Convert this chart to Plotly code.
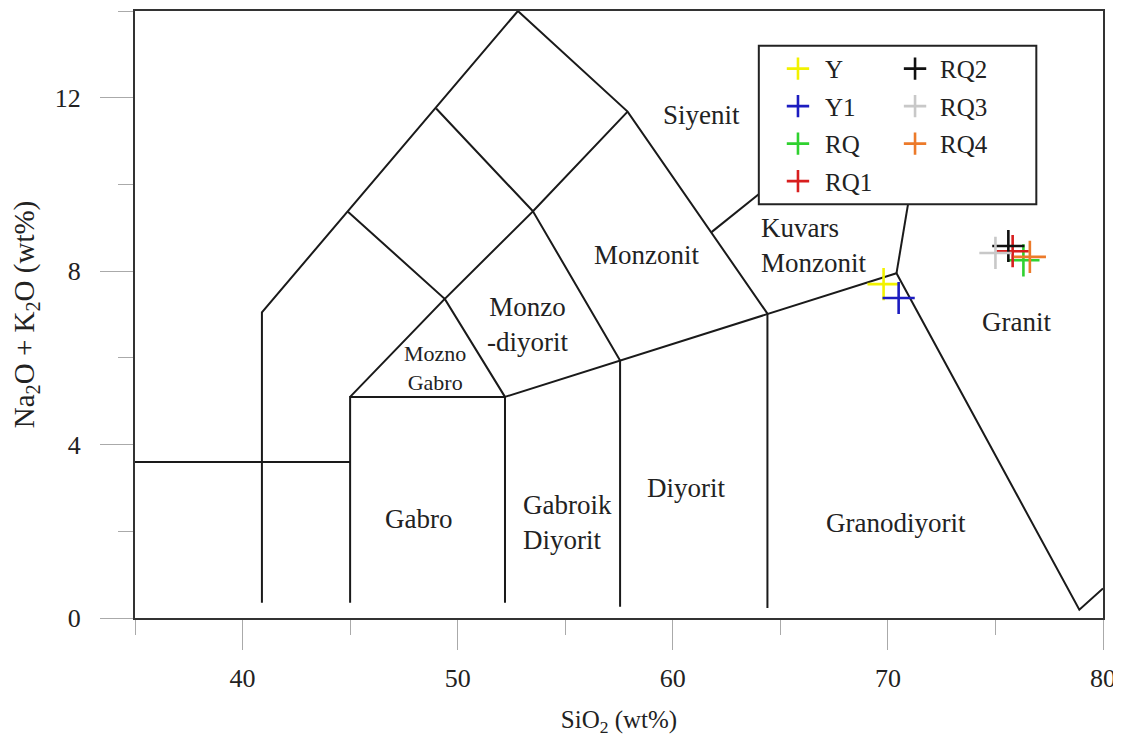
import plotly.graph_objects as go

# ---------------- data ----------------
series_names = ["Y", "Y1", "RQ", "RQ1", "RQ2", "RQ3", "RQ4"]
series_colors = ["#f2f200", "#1c1cc0", "#2fd12f", "#d81e1e", "#111111", "#c8c8c8", "#ec7a2a"]
sio2 = [69.8, 70.5, 76.3, 75.8, 75.6, 75.0, 76.6]
alkali = [7.70, 7.38, 8.25, 8.46, 8.58, 8.42, 8.33]

# TAS field boundaries (SiO2, Na2O+K2O) polylines
boundaries = [
    [(40.9, 0.35), (40.9, 7.05), (52.8, 14.0), (57.9, 11.68), (64.4, 7.02), (64.4, 0.23)],
    [(35.0, 3.6), (45.0, 3.6)],
    [(45.0, 0.35), (45.0, 5.1), (52.2, 5.1), (52.2, 0.35)],
    [(45.0, 5.1), (49.4, 7.36), (52.2, 5.1)],
    [(44.9, 9.37), (49.4, 7.36), (53.5, 9.38), (57.55, 5.94), (57.55, 0.26)],
    [(49.0, 11.75), (53.5, 9.38), (57.9, 11.68)],
    [(52.2, 5.1), (57.55, 5.94), (64.4, 7.02), (70.4, 7.95), (78.9, 0.19), (80.0, 0.68)],
    [(70.4, 7.95), (72.1, 13.0)],
    [(61.8, 8.9), (72.1, 13.0)],
]

field_labels = [
    ("Siyenit", 61.35, 11.6, "center", 27),
    ("Monzonit", 58.8, 8.38, "center", 27),
    ("Kuvars<br>Monzonit", 64.0, 8.6, "left", 27),
    ("Monzo<br>-diyorit", 53.25, 6.76, "center", 27),
    ("Mozno<br>Gabro", 48.95, 5.77, "center", 22),
    ("Gabro", 48.2, 2.28, "center", 27),
    ("Gabroik<br>Diyorit", 52.95, 2.2, "left", 27),
    ("Diyorit", 60.6, 2.99, "center", 27),
    ("Granodiyorit", 70.4, 2.18, "center", 27),
    ("Granit", 76.0, 6.83, "center", 27),
]

x_range = [35, 80]
y_range = [0, 14]

FONT = "Liberation Serif, Times New Roman, serif"
TXT = "#222222"

fig = go.Figure()

bx, by = [], []
for seg in boundaries:
    for (a, b) in seg:
        bx.append(a)
        by.append(b)
    bx.append(None)
    by.append(None)
fig.add_trace(go.Scatter(x=bx, y=by, mode="lines", line=dict(color="#1a1a1a", width=2),
                         showlegend=False, hoverinfo="skip"))

for i, name in enumerate(series_names):
    fig.add_trace(go.Scatter(
        x=[sio2[i]], y=[alkali[i]], mode="markers", name=name,
        legend="legend" if i < 4 else "legend2",
        legendgroup=name,
        marker=dict(symbol="cross-thin", size=23, color=series_colors[i],
                    line=dict(color=series_colors[i], width=2.6)),
    ))

for (txt, x, y, al, fs) in field_labels:
    fig.add_annotation(x=x, y=y, text=txt, showarrow=False, align=al,
                       xanchor="left" if al == "left" else "center", yanchor="middle",
                       font=dict(family=FONT, size=fs, color=TXT))

# legend frame
fig.add_shape(type="rect", xref="x", yref="y", x0=64.0, x1=76.9, y0=9.54, y1=13.2,
              fillcolor="white", line=dict(color="#222", width=2), layer="above")

legend_common = dict(xanchor="left", yanchor="top", bgcolor="rgba(0,0,0,0)", borderwidth=0,
                     font=dict(family=FONT, size=25, color=TXT), tracegroupgap=2)

fig.update_layout(
    width=1113, height=734,
    margin=dict(l=126, r=18, t=1, b=124),
    paper_bgcolor="white", plot_bgcolor="white",
    font=dict(family=FONT, color=TXT),
    legend=dict(x=0.657, y=0.9426, itemwidth=44, **legend_common),
    legend2=dict(x=0.780, y=0.9426, itemwidth=40, **legend_common),
    xaxis=dict(range=x_range, showgrid=False, zeroline=False, showline=True, mirror=True,
               linecolor="#333", linewidth=2, ticks="outside", tick0=40, dtick=10,
               ticklen=30, tickcolor="#aaa", tickwidth=1, ticklabeloverflow="allow",
               minor=dict(ticks="outside", dtick=5, tick0=35, ticklen=15, tickcolor="#aaa", tickwidth=1),
               tickfont=dict(family=FONT, size=26, color=TXT), ticklabelstandoff=6,
               title=dict(text="SiO<sub>2</sub> (wt%)", font=dict(family=FONT, size=25, color=TXT), standoff=18)),
    yaxis=dict(range=y_range, showgrid=False, zeroline=False, showline=True, mirror=True,
               linecolor="#333", linewidth=2, ticks="outside", tick0=0, dtick=4,
               ticklen=33, tickcolor="#aaa", tickwidth=1,
               minor=dict(ticks="outside", dtick=2, tick0=0, ticklen=15, tickcolor="#aaa", tickwidth=1),
               tickfont=dict(family=FONT, size=26, color=TXT), ticklabelstandoff=14,
               title=dict(text="Na<sub>2</sub>O + K<sub>2</sub>O (wt%)", font=dict(family=FONT, size=29, color=TXT), standoff=25)),
)

fig.write_html("out.html")
